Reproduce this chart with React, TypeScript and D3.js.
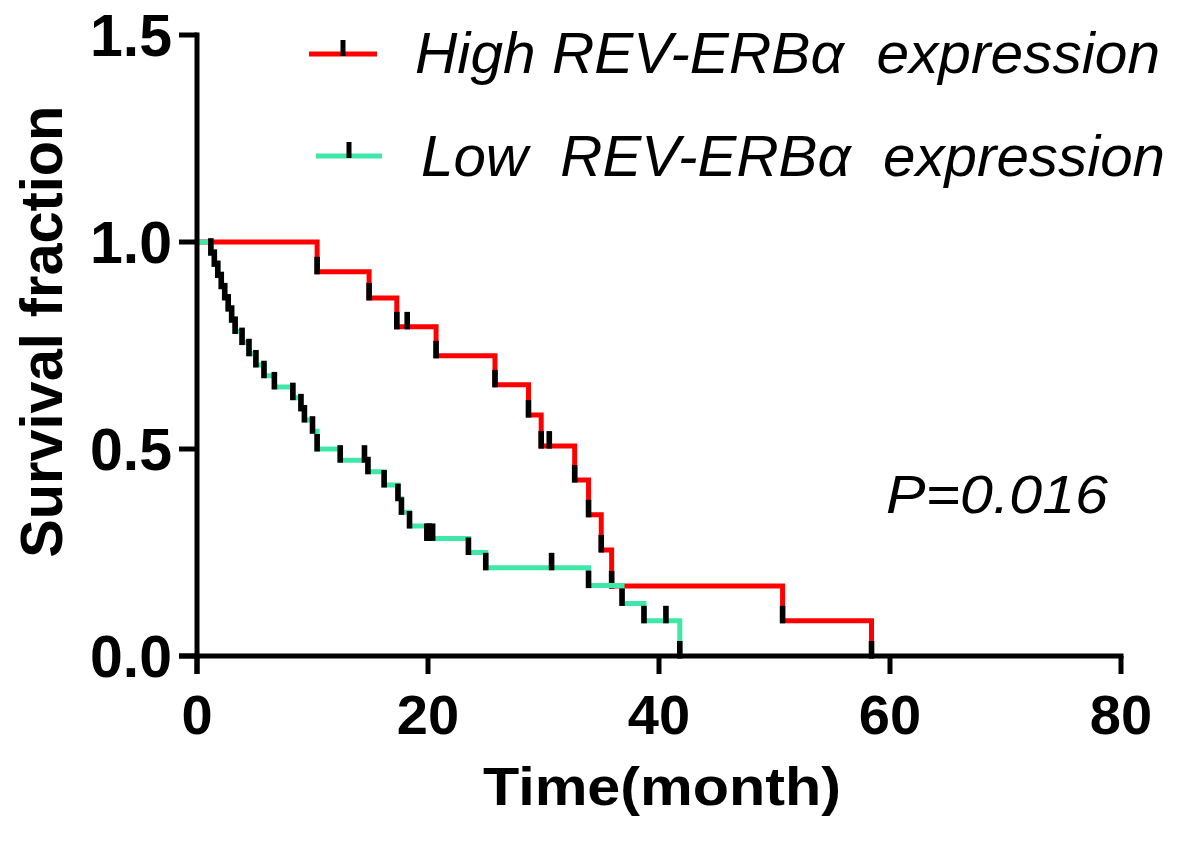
import React from "react";
import * as d3 from "d3";

// ---- data ----
const highTimes = [0, 10.4, 14.9, 17.3, 20.7, 25.8, 28.7, 29.8, 32.7, 33.9, 35.0, 35.9, 50.7, 58.4];
const highSurv = [1, 0.928, 0.865, 0.795, 0.725, 0.655, 0.582, 0.507, 0.425, 0.341, 0.256, 0.169, 0.085, 0];
const highCensor = [18.2, 30.5];

const lowTimes = [0, 1.2, 1.5, 1.8, 2.1, 2.4, 2.7, 3.0, 3.3, 3.9, 4.5, 5.1, 5.8, 6.7, 8.3, 9.0, 9.3, 10.0, 10.4, 12.4, 14.8, 16.2, 17.4, 17.7, 18.4, 19.9, 23.5, 25.0, 33.9, 36.8, 38.7, 41.8];
const lowSurv = [1, 0.973, 0.946, 0.919, 0.892, 0.865, 0.838, 0.811, 0.784, 0.757, 0.73, 0.703, 0.677, 0.65, 0.624, 0.597, 0.57, 0.543, 0.5, 0.473, 0.445, 0.413, 0.38, 0.347, 0.314, 0.284, 0.25, 0.213, 0.17, 0.127, 0.085, 0];
const lowCensor = [14.5, 20.1, 20.4, 30.7, 40.6];

const xTicks = [0, 20, 40, 60, 80];
const yTicks = [0, 0.5, 1.0, 1.5];
const seriesNames = ["High REV-ERBα  expression", "Low  REV-ERBα  expression"];
const pText = "P=0.016";

const RED = "#ff0000";
const GREEN = "#3fe8a8";

export default function App() {
  const x = d3.scaleLinear().domain([0, 80]).range([197, 1121]);
  const y = d3.scaleLinear().domain([0, 1.5]).range([656, 35]);

  const line = d3
    .line<[number, number]>()
    .x((d) => x(d[0]))
    .y((d) => y(d[1]))
    .curve(d3.curveStepAfter);

  const survAt = (times: number[], surv: number[], t: number) => {
    let s = surv[0];
    for (let i = 0; i < times.length; i++) if (times[i] <= t) s = surv[i];
    return s;
  };

  const series = [
    { times: highTimes, surv: highSurv, censor: highCensor, color: RED },
    { times: lowTimes, surv: lowSurv, censor: lowCensor, color: GREEN },
  ];

  const tick = (cx: number, cy: number, key: string) => (
    <rect key={key} x={cx - 2.8} y={cy - 15} width={5.6} height={17.5} fill="#000" />
  );

  const font = "'Liberation Sans', Arial, sans-serif";

  return (
    <svg
      width={1181}
      height={843}
      style={{ position: "absolute", left: 0, top: 0, background: "#fff" }}
      fontFamily={font}
    >
      <rect x={0} y={0} width={1181} height={843} fill="#fff" />
      {/* curves */}
      {series.map((s, si) => {
        const pts: [number, number][] = s.times.map((t, i) => [t, s.surv[i]]);
        return (
          <g key={si}>
            <path d={line(pts) || ""} fill="none" stroke={s.color} strokeWidth={5} strokeLinejoin="miter" strokeLinecap="square" />
            {s.times.slice(1).map((t, i) => tick(x(t), y(s.surv[i + 1]), `e${si}-${i}`))}
            {s.censor.map((t, i) => tick(x(t), y(survAt(s.times, s.surv, t)), `c${si}-${i}`))}
          </g>
        );
      })}

      {/* axes */}
      <line x1={x(0)} x2={x(0)} y1={y(1.5) - 2.5} y2={y(0) + 18} stroke="#000" strokeWidth={5} />
      <line x1={x(0) - 18} x2={x(80) + 2.5} y1={y(0)} y2={y(0)} stroke="#000" strokeWidth={5} />
      {xTicks.map((t) => (
        <g key={`xt${t}`}>
          <line x1={x(t)} x2={x(t)} y1={y(0)} y2={y(0) + 18} stroke="#000" strokeWidth={5} />
          <text x={x(t)} y={734} textAnchor="middle" fontWeight="bold" fontSize={56} fill="#000">
            {t}
          </text>
        </g>
      ))}
      {yTicks.map((t) => (
        <g key={`yt${t}`}>
          <line x1={x(0) - 18} x2={x(0)} y1={y(t)} y2={y(t)} stroke="#000" strokeWidth={5} />
          <text x={172} y={y(t) + 21} textAnchor="end" fontWeight="bold" fontSize={59} fill="#000">
            {t.toFixed(1)}
          </text>
        </g>
      ))}

      {/* axis titles */}
      <text x={662} y={805} textAnchor="middle" fontWeight="bold" fontSize={54} fill="#000" textLength={358} lengthAdjust="spacingAndGlyphs">
        Time(month)
      </text>
      <text
        transform={`translate(62,331.7) rotate(-90)`}
        textAnchor="middle"
        fontWeight="bold"
        fontSize={59}
        fill="#000"
        textLength={452}
        lengthAdjust="spacingAndGlyphs"
      >
        Survival fraction
      </text>

      {/* legend */}
      <line x1={309} x2={377} y1={54} y2={54} stroke={RED} strokeWidth={5} />
      <rect x={340.5} y={40} width={5} height={16} fill="#000" />
      <text x={415} y={73} fontStyle="italic" fontSize={58} fill="#000" style={{ whiteSpace: "pre" }} textLength={745} lengthAdjust="spacingAndGlyphs">
        {seriesNames[0]}
      </text>
      <line x1={316} x2={382} y1={156} y2={156} stroke={GREEN} strokeWidth={5} />
      <rect x={346.5} y={142} width={5} height={16} fill="#000" />
      <text x={421} y={176} fontStyle="italic" fontSize={58} fill="#000" style={{ whiteSpace: "pre" }} textLength={744} lengthAdjust="spacingAndGlyphs">
        {seriesNames[1]}
      </text>

      {/* p value */}
      <text x={886} y={513} fontStyle="italic" fontSize={53} fill="#000" textLength={222} lengthAdjust="spacingAndGlyphs">
        {pText}
      </text>
    </svg>
  );
}
